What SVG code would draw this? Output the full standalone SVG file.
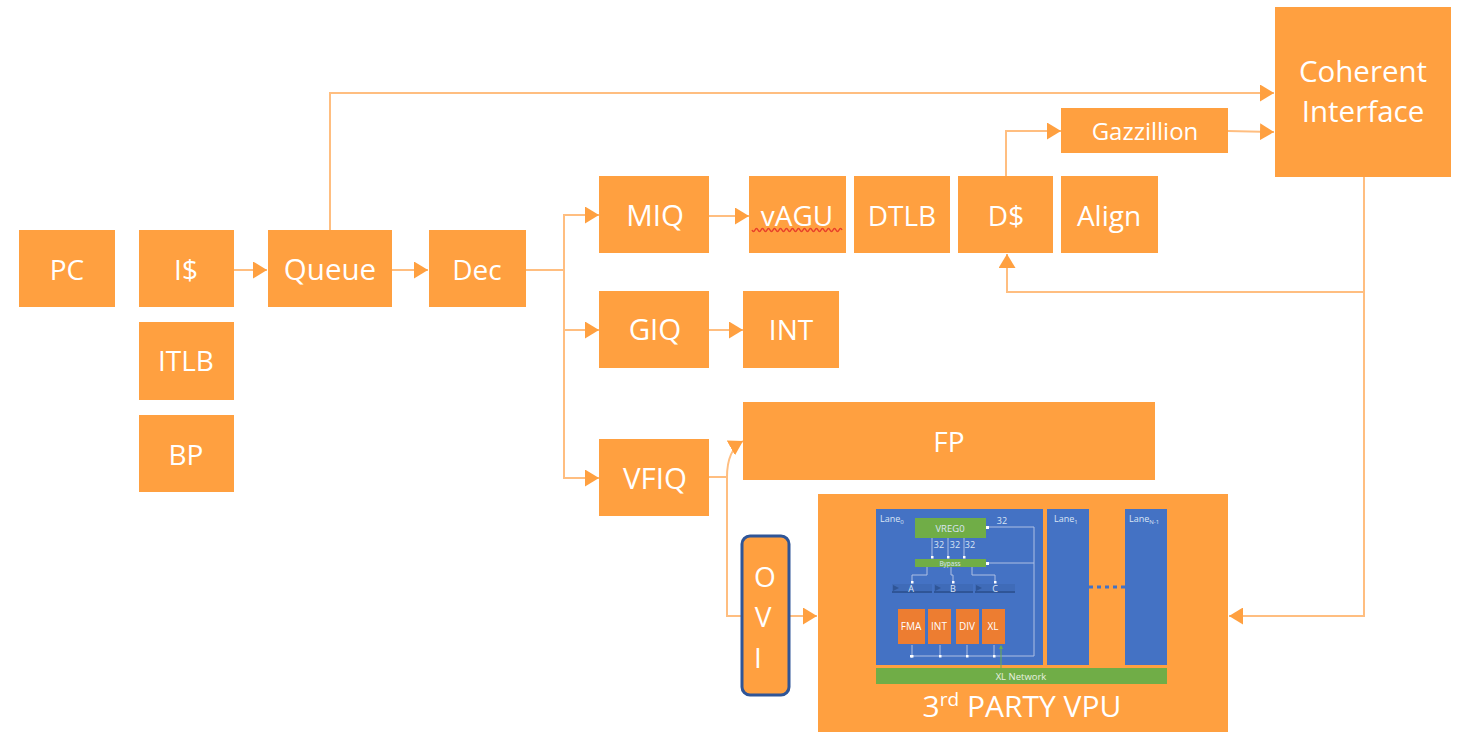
<svg xmlns="http://www.w3.org/2000/svg" width="1460" height="732" viewBox="0 0 1460 732">
<defs>
<marker id="a" markerUnits="userSpaceOnUse" markerWidth="15" markerHeight="17" refX="14" refY="8.500" orient="auto"><path d="M0 0L14 8.500L0 17Z" fill="#ffa040"/></marker>
<marker id="w" markerUnits="userSpaceOnUse" markerWidth="3" markerHeight="3" refX="1.500" refY="1.500" orient="auto"><rect width="3" height="3" fill="#fff"/></marker>
<marker id="g" markerUnits="userSpaceOnUse" markerWidth="4" markerHeight="4" refX="3" refY="2" orient="auto"><path d="M0 0L4 2L0 4Z" fill="#70ad47"/></marker>
</defs>
<style>
.b{fill:#ffa040}
text{font-family:"Open Sans","Noto Sans","Liberation Sans",sans-serif;fill:#fff;text-anchor:middle}
.t{font-size:28px}
.u{font-size:29.500px}
.c{fill:none;stroke:#ffbe80;stroke-width:2}
.l{fill:#4472c4}
.g{fill:#70ad47}
.o{fill:#ed7d31}
.w{fill:none;stroke:#aebfe3;stroke-width:1}
.s{font-size:9px;fill:#dbe5f5}
.n{text-anchor:start}
.e{font-size:10px}
.d{fill:#2f5597}
.m{fill:#3f6bb8}
</style>
<rect width="1460" height="732" fill="#fff"/>
<g id="connectors">
<path class="c" d="M234 270H267" marker-end="url(#a)"/>
<path class="c" d="M392 270H428" marker-end="url(#a)"/>
<path class="c" d="M330 230V93H1274" marker-end="url(#a)"/>
<path class="c" d="M526 270H564V215H599" marker-end="url(#a)"/>
<path class="c" d="M564 270V330H599" marker-end="url(#a)"/>
<path class="c" d="M564 330V478H599" marker-end="url(#a)"/>
<path class="c" d="M709 216H749" marker-end="url(#a)"/>
<path class="c" d="M709 330H743" marker-end="url(#a)"/>
<path class="c" d="M709 477H727Q727 450 743 441" marker-end="url(#a)"/>
<path class="c" d="M727 477V616H742"/>
<path class="c" d="M790 616H817" marker-end="url(#a)"/>
<path class="c" d="M1006 176V131H1061" marker-end="url(#a)"/>
<path class="c" d="M1228 131L1274 132" marker-end="url(#a)"/>
<path class="c" d="M1364 177V292H1007V254" marker-end="url(#a)"/>
<path class="c" d="M1364 292V616H1229" marker-end="url(#a)"/>
</g>
<g id="pc"><rect class="b" x="19" y="230" width="96" height="77"/><text class="t" x="67" y="280">PC</text></g>
<g id="icache"><rect class="b" x="139" y="230" width="95" height="77"/><text class="t" x="186" y="280">I$</text></g>
<g id="itlb"><rect class="b" x="139" y="322" width="95" height="78"/><text class="t" x="186" y="371">ITLB</text></g>
<g id="bp"><rect class="b" x="139" y="415" width="95" height="77"/><text class="t" x="186" y="465">BP</text></g>
<g id="queue"><rect class="b" x="268" y="230" width="124" height="77"/><text class="u" x="330" y="280">Queue</text></g>
<g id="dec"><rect class="b" x="429" y="230" width="97" height="77"/><text class="t" x="477" y="280">Dec</text></g>
<g id="miq"><rect class="b" x="599" y="176" width="110" height="77"/><text class="u" x="655" y="226">MIQ</text></g>
<g id="vagu"><rect class="b" x="749" y="176" width="97" height="77"/><text class="t" x="797" y="226">vAGU</text><path d="M752 230q1.500 3 3 0t3 0t3 0t3 0t3 0t3 0t3 0t3 0t3 0t3 0t3 0t3 0t3 0t3 0t3 0t3 0t3 0t3 0t3 0t3 0t3 0t3 0t3 0t3 0t3 0t3 0t3 0t3 0t3 0t3 0" fill="none" stroke="#e8402a" stroke-width="1.500"/></g>
<g id="dtlb"><rect class="b" x="854" y="176" width="96" height="77"/><text class="t" x="902" y="226">DTLB</text></g>
<g id="dcache"><rect class="b" x="958" y="176" width="95" height="77"/><text class="t" x="1006" y="226">D$</text></g>
<g id="align"><rect class="b" x="1061" y="176" width="97" height="77"/><text class="t" x="1109" y="226">Align</text></g>
<g id="gazzillion"><rect class="b" x="1061" y="108" width="167" height="45"/><text x="1145" y="140" font-size="24">Gazzillion</text></g>
<g id="coherent"><rect class="b" x="1275" y="7" width="176" height="170"/><text class="u" x="1363" y="82">Coherent</text><text class="u" x="1363" y="122">Interface</text></g>
<g id="giq"><rect class="b" x="599" y="291" width="110" height="77"/><text class="u" x="655" y="340">GIQ</text></g>
<g id="int"><rect class="b" x="743" y="291" width="96" height="77"/><text class="t" x="791" y="340">INT</text></g>
<g id="vfiq"><rect class="b" x="599" y="439" width="110" height="77"/><text class="u" x="655" y="489">VFIQ</text></g>
<g id="fp"><rect class="b" x="743" y="402" width="412" height="78"/><text class="t" x="949" y="452">FP</text></g>
<g id="ovi"><rect class="b" x="742" y="536" width="47" height="159" rx="8" stroke="#2f5597" stroke-width="3"/><text class="t" x="765" y="587">O</text><text class="t" x="763" y="627">V</text><text class="t" x="758" y="668">I</text></g>
<g id="vpu">
<rect class="b" x="818" y="494" width="410" height="238"/>
<rect class="l" x="876" y="509" width="167" height="156"/>
<rect class="l" x="1047" y="509" width="42" height="156"/>
<rect class="l" x="1125" y="509" width="42" height="156"/>
<path d="M1089 587H1125" stroke="#4472c4" stroke-width="3" stroke-dasharray="4 4" fill="none"/>
<text class="s n" x="880" y="522">Lane<tspan font-size="6" dy="2">0</tspan></text>
<text class="s n" x="1054" y="522">Lane<tspan font-size="6" dy="2">1</tspan></text>
<text class="s n" x="1129" y="522">Lane<tspan font-size="6" dy="2">N-1</tspan></text>
<path class="w" d="M1034 563H987"/>
<path class="w" d="M1034 656V527H987" marker-end="url(#w)"/>
<path class="w" d="M1034 656H911" marker-end="url(#w)"/>
<path class="w" d="M912 645V656" marker-end="url(#w)"/>
<path class="w" d="M940 645V656" marker-end="url(#w)"/>
<path class="w" d="M967 645V656" marker-end="url(#w)"/>
<path class="w" d="M994 645V656" marker-end="url(#w)"/>
<path class="w" d="M932 538V557" marker-end="url(#w)"/>
<path class="w" d="M948 538V557" marker-end="url(#w)"/>
<path class="w" d="M964 538V557" marker-end="url(#w)"/>
<path class="w" d="M927 567V575H912V582" marker-end="url(#w)"/>
<path class="w" d="M951 567V575H953V582" marker-end="url(#w)"/>
<path class="w" d="M972 567V575H995V582" marker-end="url(#w)"/>
<rect class="g" x="915" y="518" width="71" height="20"/>
<text x="950" y="532" font-size="9.500" style="fill:#dbe5f5">VREG0</text>
<rect x="986" y="526" width="3" height="3" fill="#fff"/><rect x="986" y="562" width="3" height="3" fill="#fff"/>
<text class="s" x="1002" y="524">32</text><text class="s" x="939" y="548">32</text><text class="s" x="955" y="548">32</text><text class="s" x="970" y="548">32</text>
<rect class="g" x="915" y="559" width="71" height="8"/>
<text x="950" y="565.500" font-size="6.500" style="fill:#dbe5f5">Bypass</text>
<g><rect class="m" x="892" y="584" width="40" height="7"/><rect class="d" x="892" y="591" width="40" height="2"/><path class="d" d="M893 585L899 588L893 591Z"/>
<rect class="m" x="934" y="584" width="39" height="7"/><rect class="d" x="934" y="591" width="39" height="2"/><path class="d" d="M935 585L941 588L935 591Z"/>
<rect class="m" x="975" y="584" width="40" height="7"/><rect class="d" x="975" y="591" width="40" height="2"/><path class="d" d="M976 585L982 588L976 591Z"/></g>
<text class="s" x="911" y="592">A</text><text class="s" x="953" y="592">B</text><text class="s" x="995" y="592">C</text>
<rect class="o" x="898" y="609" width="27" height="35"/><rect class="o" x="928" y="609" width="23" height="35"/><rect class="o" x="956" y="609" width="23" height="35"/><rect class="o" x="982" y="609" width="23" height="35"/>
<text class="e" x="911" y="630">FMA</text><text class="e" x="939" y="630">INT</text><text class="e" x="967" y="630">DIV</text><text class="e" x="993" y="630">XL</text>
<path d="M1001 668V646" stroke="#70ad47" stroke-width="1" fill="none" marker-end="url(#g)"/>
<rect class="g" x="876" y="668" width="291" height="16"/>
<text x="1021" y="680" font-size="9.500" style="fill:#e8f0e0">XL Network</text>
<text x="1022" y="717" font-size="30">3<tspan font-size="19" dy="-11">rd</tspan><tspan dy="11"> PARTY VPU</tspan></text>
</g>
</svg>
